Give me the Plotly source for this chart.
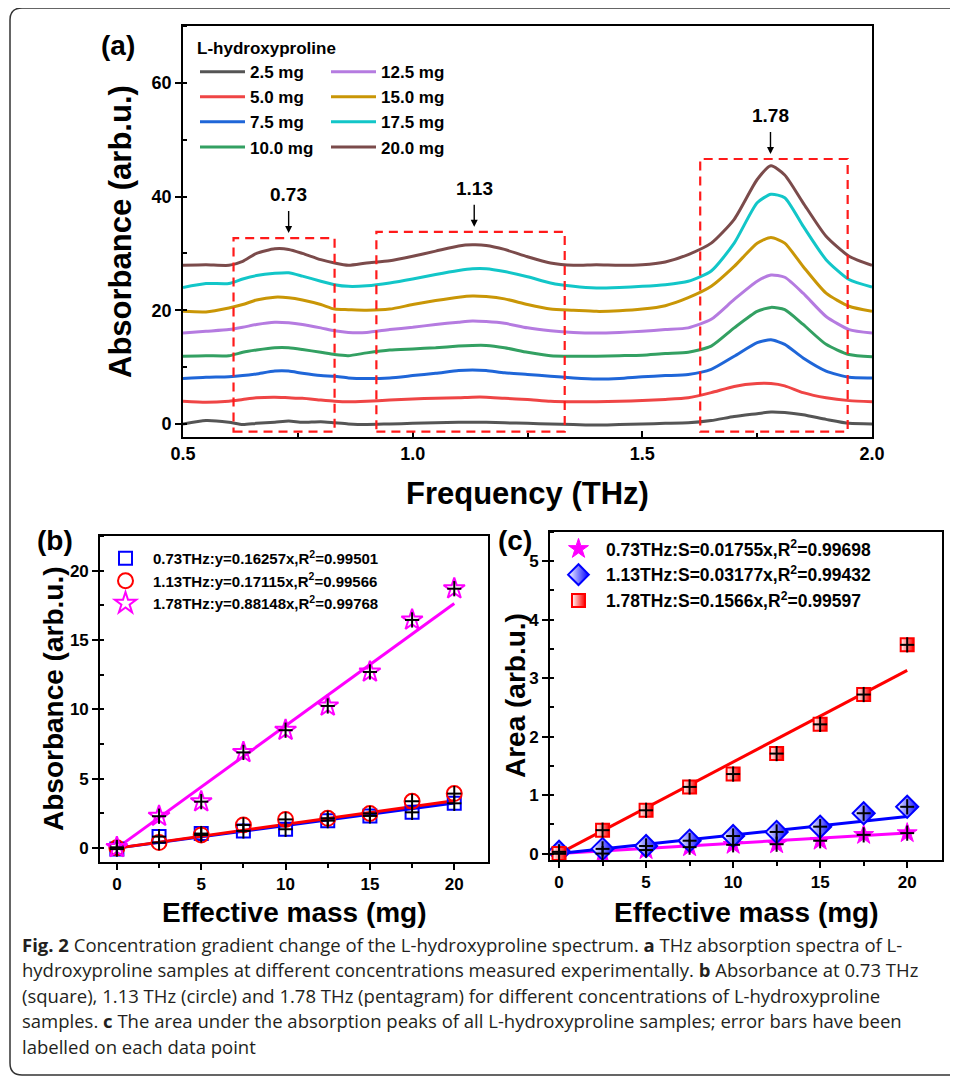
import plotly.graph_objects as go

W, H = 958, 1079
OFF = 8  # the page body adds an 8px margin; layout positions below are in screen pixels
def px(x): return (x - OFF) / W
def py(y): return 1 - (y - OFF) / H

# ---------------- Panel (a) data ----------------
freq = [0.50, 0.55, 0.60, 0.63, 0.66, 0.70, 0.73, 0.76, 0.80, 0.83, 0.86, 0.90, 0.95, 1.00,
        1.05, 1.10, 1.13, 1.16, 1.20, 1.25, 1.30, 1.35, 1.40, 1.45, 1.50, 1.55, 1.60, 1.65,
        1.70, 1.75, 1.78, 1.81, 1.85, 1.90, 1.95, 2.00]

abs_2_5 = [0.0, 0.6, 0.3, -0.1, 0.1, 0.3, 0.5, 0.3, 0.4, 0.2, 0.0, -0.1, 0.0, 0.1,
           0.2, 0.3, 0.3, 0.3, 0.2, 0.1, 0.0, -0.1, -0.2, -0.1, 0.0, 0.1, 0.2, 0.6,
           1.3, 1.8, 2.1, 2.0, 1.6, 0.8, 0.1, 0.0]
abs_5_0 = [4.0, 3.8, 4.0, 4.3, 4.6, 4.7, 4.6, 4.5, 4.2, 4.0, 3.9, 4.0, 4.2, 4.4,
           4.5, 4.6, 4.7, 4.7, 4.5, 4.3, 4.0, 3.9, 3.9, 4.0, 4.1, 4.3, 4.6, 5.5,
           6.6, 7.1, 7.1, 6.7, 5.5, 4.6, 4.1, 3.9]
abs_7_5 = [8.0, 8.2, 8.3, 8.5, 8.8, 9.3, 9.3, 8.9, 8.5, 8.4, 8.1, 8.0, 8.1, 8.5,
           8.9, 9.4, 9.5, 9.4, 9.0, 8.7, 8.4, 8.1, 7.9, 8.0, 8.3, 8.5, 8.7, 9.6,
           11.9, 14.3, 14.8, 14.0, 11.6, 9.3, 8.2, 8.1]
abs_10_0 = [11.9, 12.0, 12.0, 12.6, 13.0, 13.4, 13.4, 13.1, 12.6, 12.2, 12.0, 12.5, 13.0, 13.2,
            13.4, 13.7, 13.8, 13.8, 13.4, 12.6, 12.0, 11.9, 11.9, 12.0, 12.1, 12.4, 12.6, 13.7,
            16.9, 19.8, 20.5, 20.1, 17.5, 14.0, 12.2, 11.8]
abs_12_5 = [16.0, 16.3, 16.6, 17.0, 17.5, 17.9, 17.8, 17.5, 16.9, 16.4, 16.1, 16.1, 16.6, 17.0,
            17.5, 17.9, 18.1, 18.0, 17.7, 16.9, 16.4, 16.1, 16.0, 16.1, 16.3, 16.6, 16.9, 18.4,
            21.9, 25.1, 26.2, 25.8, 23.0, 18.9, 16.6, 16.0]
abs_15_0 = [19.8, 19.7, 20.4, 21.0, 21.8, 22.3, 22.2, 21.8, 21.0, 20.2, 20.1, 20.0, 20.2, 21.0,
            21.7, 22.3, 22.5, 22.4, 22.0, 21.0, 20.2, 20.0, 19.8, 19.9, 20.2, 20.8, 22.2, 24.2,
            27.7, 31.8, 32.8, 31.8, 27.7, 23.0, 20.7, 19.8]
abs_17_5 = [24.0, 24.7, 24.7, 25.5, 26.1, 26.5, 26.6, 26.0, 25.1, 24.5, 24.2, 24.3, 24.8, 25.5,
            26.3, 27.0, 27.3, 27.3, 26.8, 25.9, 24.8, 24.2, 23.9, 24.0, 24.2, 24.5, 25.1, 26.9,
            31.8, 38.9, 40.4, 39.8, 34.8, 28.9, 25.4, 24.1]
abs_20_0 = [27.9, 28.0, 27.9, 28.6, 30.0, 30.8, 30.7, 30.0, 28.9, 28.3, 27.9, 28.3, 28.7, 29.5,
            30.4, 31.3, 31.5, 31.4, 30.7, 29.4, 28.3, 27.9, 28.0, 27.9, 28.0, 28.5, 29.8, 31.8,
            36.0, 43.0, 45.4, 43.8, 38.9, 33.0, 29.5, 27.9]

spectra_labels = ["2.5 mg", "5.0 mg", "7.5 mg", "10.0 mg", "12.5 mg", "15.0 mg", "17.5 mg", "20.0 mg"]
spectra = [abs_2_5, abs_5_0, abs_7_5, abs_10_0, abs_12_5, abs_15_0, abs_17_5, abs_20_0]
spectra_colors = ["#555555", "#ef4545", "#1f66d8", "#33a062", "#b57be0", "#c99606", "#12c6c8", "#7b4b4b"]

# peak boxes (x0, x1, top) and peak labels
peak_names = ["0.73", "1.13", "1.78"]
peak_pos = [0.73, 1.134, 1.779]
box_x0 = [0.61, 0.921, 1.626]
box_x1 = [0.830, 1.331, 1.947]
box_top = [32.7, 33.8, 46.6]
box_bottom = -1.35

# ---------------- Panel (b) data ----------------
mass = [0, 2.5, 5, 7.5, 10, 12.5, 15, 17.5, 20]
b_073 = [-0.07, 0.83, 1.05, 1.24, 1.36, 1.98, 2.32, 2.58, 3.23]
b_113 = [0.03, 0.40, 0.95, 1.67, 2.07, 2.15, 2.50, 3.38, 3.93]
b_178 = [0.05, 2.30, 3.35, 6.90, 8.50, 10.25, 12.70, 16.45, 18.70]
b_slopes = [0.16257, 0.17115, 0.88148]
b_names = ["0.73THz:y=0.16257x,R<sup>2</sup>=0.99501",
           "1.13THz:y=0.17115x,R<sup>2</sup>=0.99566",
           "1.78THz:y=0.88148x,R<sup>2</sup>=0.99768"]
b_err_y = [0.55] * 9
b_err_x = [0.42] * 9

# ---------------- Panel (c) data ----------------
c_073 = [0.00, 0.00, 0.06, 0.11, 0.15, 0.16, 0.22, 0.32, 0.35]
c_113 = [0.03, 0.08, 0.13, 0.22, 0.30, 0.37, 0.46, 0.69, 0.80]
c_178 = [0.00, 0.40, 0.74, 1.14, 1.36, 1.71, 2.21, 2.72, 3.57]
c_slopes = [0.01755, 0.03177, 0.1566]
c_names = ["0.73THz:S=0.01755x,R<sup>2</sup>=0.99698",
           "1.13THz:S=0.03177x,R<sup>2</sup>=0.99432",
           "1.78THz:S=0.1566x,R<sup>2</sup>=0.99597"]
c_err_y = [0.13] * 9
c_err_x = [0.40] * 9

FONT = "Liberation Sans"
bold = lambda s: f"<b>{s}</b>"
fig = go.Figure()

# ---- Panel (a) traces ----
for i, (lab, ys, col) in enumerate(zip(spectra_labels, spectra, spectra_colors)):
    fig.add_trace(go.Scatter(
        x=freq, y=ys, mode="lines", name=bold(lab),
        line=dict(color=col, width=3, shape="spline", smoothing=0.6),
        xaxis="x", yaxis="y",
        legend="legend" if i < 4 else "legend2",
    ))

# ---- Panel (b) traces ----
fit_x = [0, 20]
b_cols = ["#0000ff", "#ff0000", "#ff00ff"]
for slope, col in zip(b_slopes, b_cols):
    fig.add_trace(go.Scatter(x=fit_x, y=[slope * v for v in fit_x], mode="lines",
                             line=dict(color=col, width=3), showlegend=False,
                             xaxis="x2", yaxis="y2", hoverinfo="skip"))
b_symbols = ["square-open", "circle-open", "star-open"]
b_sizes = [13, 15, 16]
for ys, col, sym, sz, nm in zip([b_073, b_113, b_178], b_cols, b_symbols, b_sizes, b_names):
    fig.add_trace(go.Scatter(x=mass, y=ys, mode="markers", name=bold(nm),
                             marker=dict(symbol=sym, color=col, size=sz, line=dict(width=2, color=col)),
                             xaxis="x2", yaxis="y2", legend="legend3"))
for ys in [b_073, b_113, b_178]:
    fig.add_trace(go.Scatter(x=mass, y=ys, mode="markers", showlegend=False,
                             marker=dict(size=1, color="rgba(0,0,0,0)"),
                             error_y=dict(type="data", array=b_err_y, color="black", thickness=2, width=0),
                             error_x=dict(type="data", array=b_err_x, color="black", thickness=2, width=0),
                             xaxis="x2", yaxis="y2", hoverinfo="skip"))

# ---- Panel (c) traces ----
c_cols = ["#ff00ff", "#0000ff", "#ff0000"]
for slope, col in zip(c_slopes, c_cols):
    fig.add_trace(go.Scatter(x=fit_x, y=[slope * v for v in fit_x], mode="lines",
                             line=dict(color=col, width=3), showlegend=False,
                             xaxis="x3", yaxis="y3", hoverinfo="skip"))
c_markers = [
    dict(symbol="star", color="#ff00ff", size=15, line=dict(width=1, color="#ff00ff")),
    dict(symbol="diamond", color="white", size=17, line=dict(width=2, color="#0000ff"),
         gradient=dict(type="horizontal", color="#0000ff")),
    dict(symbol="square", color="white", size=13, line=dict(width=2, color="#ff0000"),
         gradient=dict(type="horizontal", color="#ff0000")),
]
for ys, mk, nm in zip([c_073, c_113, c_178], c_markers, c_names):
    fig.add_trace(go.Scatter(x=mass, y=ys, mode="markers", name=bold(nm), marker=mk,
                             xaxis="x3", yaxis="y3", legend="legend4"))
for ys in [c_073, c_113, c_178]:
    fig.add_trace(go.Scatter(x=mass, y=ys, mode="markers", showlegend=False,
                             marker=dict(size=1, color="rgba(0,0,0,0)"),
                             error_y=dict(type="data", array=c_err_y, color="black", thickness=2, width=0),
                             error_x=dict(type="data", array=c_err_x, color="black", thickness=2, width=0),
                             xaxis="x3", yaxis="y3", hoverinfo="skip"))

# ---- shapes ----
shapes = []
for x0, x1, top in zip(box_x0, box_x1, box_top):
    shapes.append(dict(type="rect", xref="x", yref="y", x0=x0, x1=x1, y0=box_bottom, y1=top,
                       line=dict(color="#ff1a1a", width=2.2, dash="9px,6px")))
# figure border (rounded left corners, right side runs off-canvas)
r = 12
path = (f"M {px(975)},{py(8)} L {px(10 + r)},{py(8)} Q {px(10)},{py(8)} {px(10)},{py(8 + r)} "
        f"L {px(10)},{py(1075 - r)} Q {px(10)},{py(1075)} {px(10 + r)},{py(1075)} L {px(975)},{py(1075)}")
shapes.append(dict(type="path", xref="paper", yref="paper", path=path,
                   line=dict(color="#333333", width=1.5)))

# ---- annotations ----
ann = []
def note(x, y, text, size, angle=0, color="black", family=FONT, xanchor="center"):
    return dict(x=x, y=y, xref="paper", yref="paper", text=text, showarrow=False,
                xanchor=xanchor, yanchor="middle", textangle=angle,
                font=dict(family=family, size=size, color=color))

for name, xp, top in zip(peak_names, peak_pos, box_top):
    ann.append(dict(x=xp, y=top + 0.9, ax=xp, ay=top + 5.0, xref="x", yref="y", axref="x", ayref="y",
                    text="", showarrow=True, arrowhead=2, arrowsize=1, arrowwidth=1.4, arrowcolor="black"))
    ann.append(dict(x=xp, y=top + 7.6, xref="x", yref="y", text=bold(name), showarrow=False,
                    xanchor="center", yanchor="middle",
                    font=dict(family=FONT, size=19, color="black")))

ann.append(note(px(118), py(46), bold("(a)"), 28))
ann.append(note(px(55), py(540), bold("(b)"), 28))
ann.append(note(px(515), py(540), bold("(c)"), 28))

# axis titles
ann.append(note(px(527), py(494), bold("Frequency (THz)"), 31))
ann.append(note(px(121), py(232), bold("Absorbance (arb.u.)"), 31, angle=-90))
ann.append(note(px(294), py(912), bold("Effective mass (mg)"), 28))
ann.append(note(px(53), py(699), bold("Absorbance (arb.u.)"), 28, angle=-90))
ann.append(note(px(746), py(912), bold("Effective mass (mg)"), 28))
ann.append(note(px(515), py(696), bold("Area (arb.u.)"), 28, angle=-90))

caption = [
    "<b>Fig. 2</b> Concentration gradient change of the L-hydroxyproline spectrum. <b>a</b> THz absorption spectra of L-",
    "hydroxyproline samples at different concentrations measured experimentally. <b>b</b> Absorbance at 0.73 THz",
    "(square), 1.13 THz (circle) and 1.78 THz (pentagram) for different concentrations of L-hydroxyproline",
    "samples. <b>c</b> The area under the absorption peaks of all L-hydroxyproline samples; error bars have been",
    "labelled on each data point",
]
for i, line in enumerate(caption):
    ann.append(note(px(20), py(944 + 25.6 * i), line, 18.5, color="#231f20", family="Open Sans", xanchor="left"))


def axis_style(domain, rng, tickvals, minor_dtick, anchor, fsize, ticks="outside", minor_ticks="outside"):
    return dict(domain=domain, range=rng, tickvals=tickvals, anchor=anchor, automargin=False,
                showline=True, linecolor="black", linewidth=1.6, mirror=True,
                ticks=ticks, ticklen=6, tickwidth=1.5, tickcolor="black",
                minor=dict(dtick=minor_dtick, ticks=minor_ticks, ticklen=4, tickwidth=1.5, tickcolor="black",
                           showgrid=False),
                showgrid=False, zeroline=False,
                ticktext=[bold(str(v)) for v in tickvals],
                tickfont=dict(family=FONT, size=fsize, color="black"))


xa = axis_style([px(183), px(872)], [0.5, 2.0], [0.5, 1.0, 1.5, 2.0], 0.25, "y", 18, ticks="inside", minor_ticks="inside")
ya = axis_style([py(437), py(26)], [-2.3, 70], [0, 20, 40, 60], 10, "x", 18, minor_ticks="inside")
xb = axis_style([px(100), px(488)], [-1, 22], [0, 5, 10, 15, 20], 2.5, "y2", 17)
yb = axis_style([py(862), py(536)], [-1, 22.5], [0, 5, 10, 15, 20], 2.5, "x2", 17, minor_ticks="inside")
xc = axis_style([px(550), px(942)], [-0.52, 22], [0, 5, 10, 15, 20], 2.5, "y3", 17)
yc = axis_style([py(860), py(532)], [-0.11, 5.5], [0, 1, 2, 3, 4, 5], 0.5, "x3", 17, minor_ticks="inside")

def leg(x, y, size, title=None):
    d = dict(bgcolor="rgba(0,0,0,0)", borderwidth=0, font=dict(family=FONT, size=size, color="black"),
             xanchor="left", yanchor="top", itemwidth=45, tracegroupgap=0, x=x, y=y)
    if title is not None:
        d["title"] = dict(text=title, font=dict(family=FONT, size=size, color="black"))
    return d

fig.update_layout(
    template="none",
    width=W, height=H, margin=dict(l=0, r=0, t=0, b=0, pad=0, autoexpand=False),
    paper_bgcolor="white", plot_bgcolor="white",
    xaxis=xa, yaxis=ya, xaxis2=xb, yaxis2=yb, xaxis3=xc, yaxis3=yc,
    shapes=shapes, annotations=ann,
    legend=leg(px(195), py(32), 17, "<b>L-hydroxyproline</b>"),
    legend2=leg(px(326), py(32), 17, " "),
    legend3=leg(px(98), py(542), 15),
    legend4=leg(px(551), py(531), 17.5),
    showlegend=True,
)

fig.write_html("out.html")
